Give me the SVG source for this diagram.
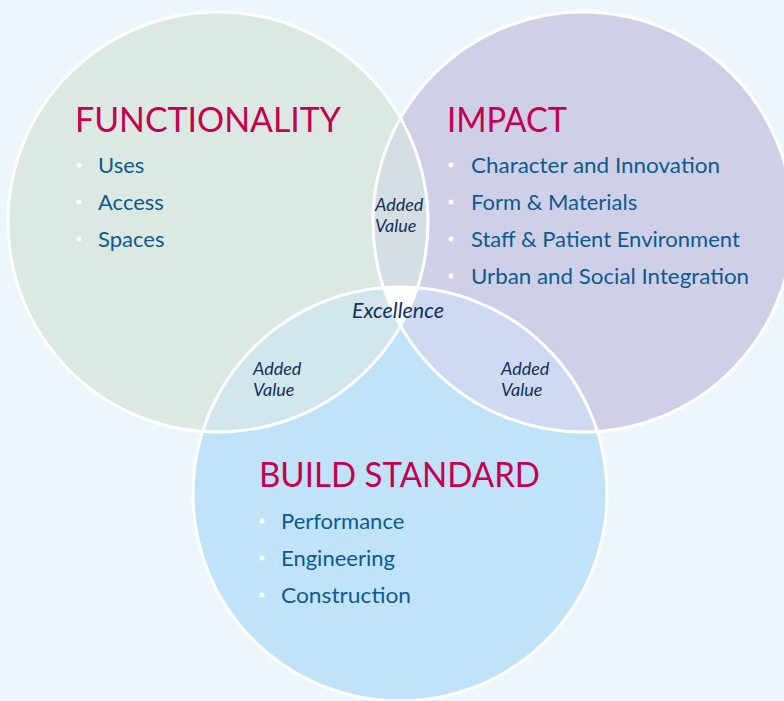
<svg xmlns="http://www.w3.org/2000/svg" width="784" height="701" viewBox="0 0 784 701">
  <defs>
    <clipPath id="clipL"><circle cx="218" cy="222" r="210"/></clipPath>
    <clipPath id="clipR"><circle cx="583" cy="222" r="210"/></clipPath>
    <clipPath id="clipB"><circle cx="400" cy="494" r="207"/></clipPath>
    <style>
      .head { font-family: Lato, "Open Sans", sans-serif; font-size: 34px; fill: #c4004f; }
      .item { font-family: Lato, "Open Sans", sans-serif; font-size: 22px; fill: #0c5a92; }
      .lbl { font-family: Lato, "Open Sans", sans-serif; font-size: 18px; font-style: italic; fill: #13305e; }
      .exc { font-family: Lato, "Open Sans", sans-serif; font-size: 21px; font-style: italic; fill: #13305e; }
      .dot { fill: #ffffff; }
      .ring { fill: none; stroke: #ffffff; stroke-width: 3; }
    </style>
  </defs>
  <rect width="784" height="701" fill="#eef6fd"/>

  <g id="circles">
    <circle id="circle-functionality" cx="218" cy="222" r="210" fill="#dbe9e2"/>
    <circle id="circle-impact" cx="583" cy="222" r="210" fill="#cfd0e7"/>
    <circle id="circle-build" cx="400" cy="494" r="207" fill="#c1e3fa"/>
    <g clip-path="url(#clipL)"><circle cx="583" cy="222" r="210" fill="#d5dee3"/></g>
    <g clip-path="url(#clipL)"><circle cx="400" cy="494" r="207" fill="#d2e6ee"/></g>
    <g clip-path="url(#clipR)"><circle cx="400" cy="494" r="207" fill="#cfdaf2"/></g>
    <g clip-path="url(#clipL)"><g clip-path="url(#clipR)"><circle cx="400" cy="494" r="207" fill="#ffffff"/></g></g>
    <circle class="ring" cx="218" cy="222" r="210"/>
    <circle class="ring" cx="583" cy="222" r="210"/>
    <circle class="ring" cx="400" cy="494" r="207"/>
  </g>

  <g id="node-functionality">
    <text class="head" x="75" y="132" textLength="266" lengthAdjust="spacingAndGlyphs">FUNCTIONALITY</text>
    <circle class="dot" cx="79" cy="165" r="2.5"/>
    <text class="item" x="98" y="173">Uses</text>
    <circle class="dot" cx="79" cy="202" r="2.5"/>
    <text class="item" x="98" y="210">Access</text>
    <circle class="dot" cx="79" cy="239" r="2.5"/>
    <text class="item" x="98" y="247">Spaces</text>
  </g>

  <g id="node-impact">
    <text class="head" x="447" y="132" textLength="120" lengthAdjust="spacingAndGlyphs">IMPACT</text>
    <circle class="dot" cx="451" cy="165" r="2.5"/>
    <text class="item" x="471" y="173" textLength="249" lengthAdjust="spacingAndGlyphs">Character and Innovation</text>
    <circle class="dot" cx="451" cy="202" r="2.5"/>
    <text class="item" x="471" y="210">Form &amp; Materials</text>
    <circle class="dot" cx="451" cy="239" r="2.5"/>
    <text class="item" x="471" y="247">Staff &amp; Patient Environment</text>
    <circle class="dot" cx="451" cy="276" r="2.5"/>
    <text class="item" x="471" y="284" textLength="278" lengthAdjust="spacingAndGlyphs">Urban and Social Integration</text>
  </g>

  <g id="node-build">
    <text class="head" x="259" y="487" textLength="281" lengthAdjust="spacingAndGlyphs">BUILD STANDARD</text>
    <circle class="dot" cx="262" cy="521" r="2.5"/>
    <text class="item" x="281" y="529">Performance</text>
    <circle class="dot" cx="262" cy="558" r="2.5"/>
    <text class="item" x="281" y="566">Engineering</text>
    <circle class="dot" cx="262" cy="595" r="2.5"/>
    <text class="item" x="281" y="603" textLength="130" lengthAdjust="spacingAndGlyphs">Construction</text>
  </g>

  <g id="overlap-labels">
    <text class="lbl" x="375" y="211">Added</text>
    <text class="lbl" x="375" y="232">Value</text>
    <text class="lbl" x="253" y="375">Added</text>
    <text class="lbl" x="253" y="396">Value</text>
    <text class="lbl" x="501" y="375">Added</text>
    <text class="lbl" x="501" y="396">Value</text>
    <text class="exc" x="352" y="318" textLength="92" lengthAdjust="spacingAndGlyphs">Excellence</text>
  </g>
  <g id="connectors"/>
</svg>
